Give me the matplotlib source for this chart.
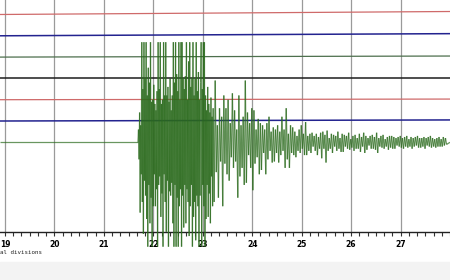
import numpy as np
import matplotlib.pyplot as plt
from matplotlib.patches import Rectangle
from matplotlib.collections import LineCollection
from matplotlib.ticker import MultipleLocator, FixedLocator

# time axis in minutes, each trace sits one unit below the previous one
t_start = 18.9
t_end = 28.0
onset = 21.69
burst_end = 23.21
coda_start = 23.23
coda_end = 27.93
minutes = [19, 20, 21, 22, 23, 24, 25, 26, 27]

colors = ['#cf6a6a', '#23238f', '#4d6f4d', '#1c1c1c', '#cf6a6a', '#23238f']
quake_color = '#2a6a1c'

# quiet traces: level at left edge and right edge (trace units)
quiet_left = [0.0, 0.0, 0.0, 0.0, 0.0, 0.0]
quiet_right = [0.14, 0.1, 0.05, 0.0, 0.03, 0.05]

# bottom trace, strong part (clipped), read peak by peak
burst = [0, 0.6, -0.8, 1.4, -3.3, 0.8, -1.5,
         4.7, -2.8, 2.5, -4.3, 4.7, -1.8, 3.0, -2.5, 4.7, -3.6, 2.2, -4.9,
         3.5, -2.0, 2.8, -3.8, 4.7, -2.6, 1.9, -4.9, 2.0, -3.0,
         2.7, -1.5, 1.8, -3.0, 1.5, -2.2, 2.4, -4.9,
         4.7, -2.0, 2.5, -1.6, 4.7, -3.5, 1.8, -2.4, 2.0, -4.9, 4.7, -1.5,
         2.2, -2.8, 4.7, -4.2, 2.2, -1.8, 2.6, -4.9, 1.9, -2.3,
         3.0, -2.5, 1.5, -1.9, 2.2, -3.8,
         4.7, -4.9, 2.8, -2.0, 4.7, -4.9, 3.2, -2.6, 2.4, -4.9, 4.7, -3.0,
         2.0, -2.2, 4.7, -4.9, 4.7, -2.5, 3.0, -4.0, 2.5, -2.0, 3.1,
         -3.8, 4.7, -2.2, 2.0, -2.8, 3.8, -4.4, 4.7, -3.0, 2.6, -2.0, 3.0,
         -4.9, 4.7, -3.5, 2.2, -2.8, 3.0, -4.6, 4.7, -2.5, 2.4, -3.0, 3.3,
         -4.9, 2.0, -2.5, 2.8,
         4.7, -4.9, 2.5, -2.0, 4.7, -3.0, 4.7, -4.9,
         2.2, -3.6, 1.5, -2.0, 2.6, -3.5, 1.8, -2.4, 1.4, -3.8, 2.1, -1.6,
         1.2, -3.0, 1.6]

# bottom trace, decaying coda
coda = [-2.8, 2.9, -1.4, 0.8, -2.6, 1.6, -0.9, 1.2, -3.0, 2.2, -1.0, 1.6, -1.5, 2.0,
        -1.8, 0.9, -0.7, 2.3, -1.2, 1.5, -0.9, 0.6, -2.6, 2.2, -1.6, 0.8, -1.2, 1.2, -2.0,
        2.9, -1.9, 1.4, -0.6, 0.9, -1.2, 1.6, -2.25, 1.5, -1.0, 0.6, -0.7, 1.1, -1.5, 0.9,
        -1.3, 0.8, -0.5, 0.6, -1.5, 0.9, -0.8, 1.2, -0.4, 0.5, -0.95, 0.7, -0.9, 0.6, -0.5,
        0.8, -0.95, 0.5, -0.6, 1.2, -0.4, 0.6, -1.2, 1.6, -0.8, 0.4, -1.2, 0.8, -0.5, 0.7,
        -0.6, 0.5, -0.7, 0.3, -0.4, 0.6, -0.5, 0.8, -0.3, 0.4, -0.6, 0.95, -0.6, 0.3, -0.4,
        0.4, -0.5, 0.45, -0.2, 0.3, -0.4, 0.4, -0.6, 0.25, -0.3, 0.45, -0.75, 0.5, -0.3, 0.35,
        -0.95, 0.55, -0.4, 0.2, -0.3, 0.4, -0.5, 0.35, -0.2, 0.3, -0.4, 0.5, -0.3, 0.2, -0.45,
        0.4, -0.45, 0.35, -0.2, 0.3, -0.3, 0.45, -0.35, 0.15, -0.25, 0.3, -0.4, 0.35, -0.3, 0.2,
        -0.3, 0.4, -0.45, 0.25, -0.2, 0.45, -0.5, 0.3, -0.35, 0.2, -0.15, 0.3, -0.3, 0.35, -0.3,
        0.25, -0.35, 0.45, -0.5, 0.2, -0.2, 0.3, -0.25, 0.35, -0.3, 0.15, -0.2, 0.25, -0.35, 0.3,
        -0.25, 0.3, -0.3, 0.25, -0.3, 0.2, -0.15, 0.25, -0.2, 0.3, -0.25, 0.2, -0.3, 0.25, -0.2,
        0.3, -0.25, 0.15, -0.2, 0.25, -0.3, 0.2, -0.2, 0.25, -0.15, 0.3, -0.25, 0.2, -0.25, 0.2,
        -0.2, 0.25, -0.3, 0.2, -0.15, 0.25, -0.2, 0.3, -0.25, 0.2, -0.2, 0.15, -0.25, 0.2, -0.2,
        0.25, -0.2, 0.15, -0.2, 0.25, -0.15, 0.2, -0.1]

fig = plt.figure(figsize=(4.5, 2.8), dpi=100)
fig.add_artist(Rectangle((0, 0), 1, 18 / 280, transform=fig.transFigure,
                         color='#f3f3f3', zorder=-1))
ax = fig.add_axes([0, 48 / 280, 1, 232 / 280])
ax.set_xlim(t_start, t_end)
ax.set_ylim(-10.21, 0.68)

for k in range(6):
    ax.plot([t_start, t_end], [-k + quiet_left[k], -k + quiet_right[k]],
            color=colors[k], lw=1.1 if k in (1, 3, 5) else 0.9, zorder=2)

t = np.concatenate([[t_start, onset],
                    np.linspace(onset, burst_end, len(burst)),
                    np.linspace(coda_start, coda_end, len(coda)),
                    [t_end]])
y = np.concatenate([[0, 0], burst, coda, [0]]) - 6
# separate segments so overlapping strokes build up darker, like the scan
pts = np.column_stack([t, y])
segs = np.stack([pts[:-1], pts[1:]], axis=1)
lc = LineCollection(segs, colors=quake_color, linewidths=0.9, alpha=0.7,
                    clip_on=False, zorder=3)
ax.add_collection(lc)

for s in ['top', 'left', 'right']:
    ax.spines[s].set_visible(False)
ax.spines['bottom'].set_color('#222222')
ax.spines['bottom'].set_linewidth(1)
ax.set_yticks([])
ax.xaxis.set_major_locator(FixedLocator(minutes))
ax.xaxis.set_minor_locator(MultipleLocator(1 / 6))
ax.tick_params(axis='x', which='both', direction='out', length=3, width=0.8,
               color='#333333', labelsize=5.5, pad=3)
for lab in ax.get_xticklabels():
    lab.set_fontweight('bold')
ax.grid(axis='x', which='major', color='#9a9a9a', lw=0.9)
ax.set_axisbelow(True)

fig.text(0.0, 27 / 280, 'al divisions', fontsize=4.2,
         family='DejaVu Sans Mono', va='center', color='#222222')

fig.savefig('out.png', dpi=100)
